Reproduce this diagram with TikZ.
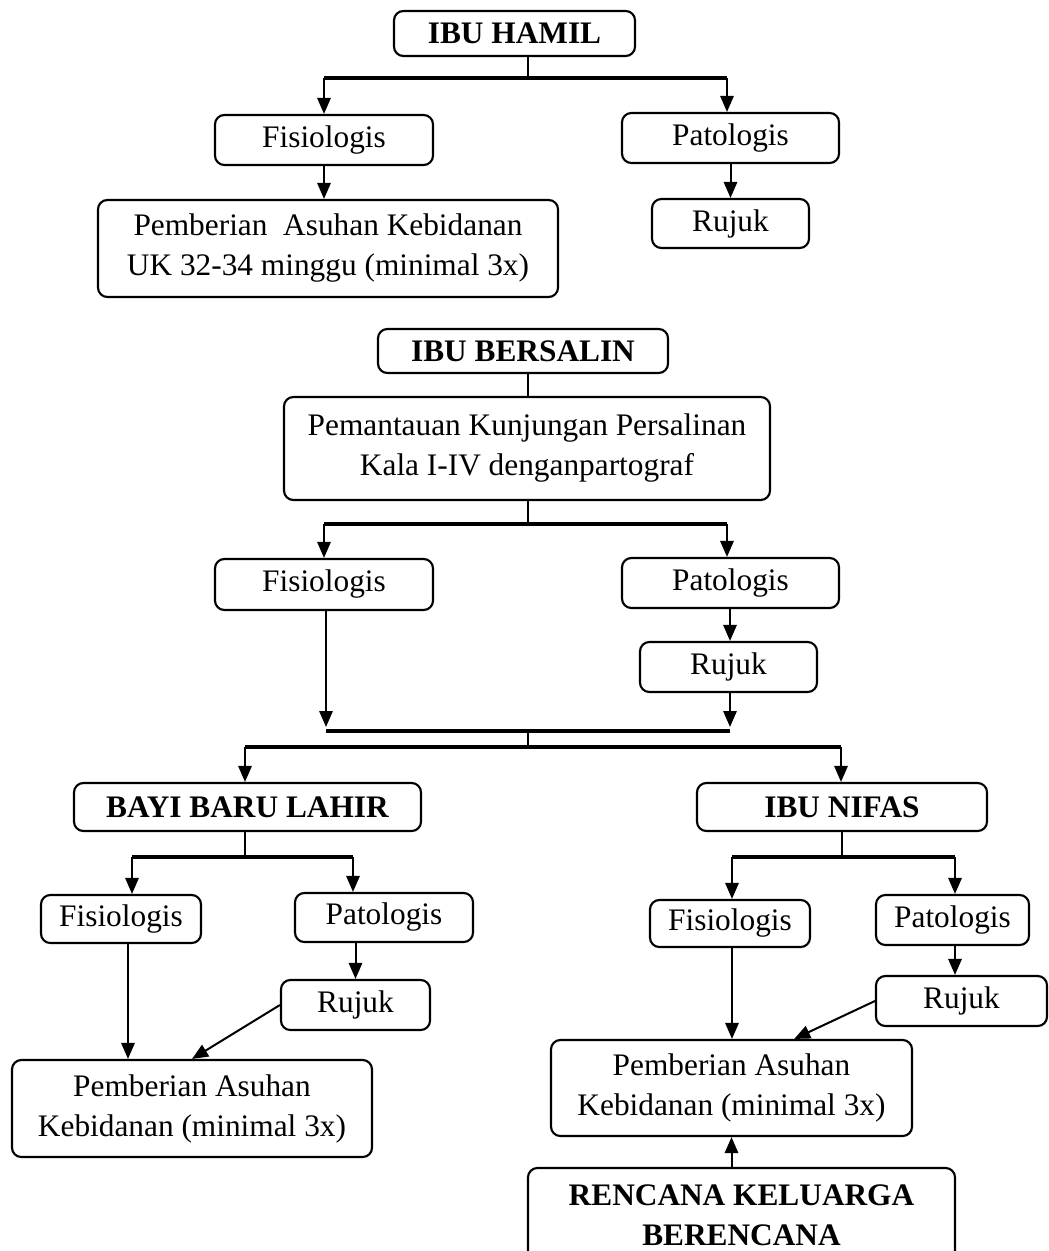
\documentclass[tikz,border=0pt]{standalone}
\usepackage{fontspec}
\setmainfont{Liberation Serif}
\usetikzlibrary{arrows.meta}

\tikzset{every picture/.style={line width=0.75pt}}
\tikzset{
  box/.style={draw, rounded corners=7pt, line width=1.6pt, inner sep=0pt, align=center,
    font=\fontsize{23.5}{30}\selectfont},
  arr/.style={line width=1.5pt, -{Triangle[length=12pt,width=10pt]}},
  conn/.style={line width=1.5pt},
  bar/.style={line width=3pt}
}

\begin{document}
\begin{tikzpicture}[x=0.75pt,y=0.75pt,yscale=-1,xscale=1]
\useasboundingbox (0,0) rectangle (1048,1251);
\clip (0,0) rectangle (1048,1251);

% Ibu hamil
\node (hamil) at (514.5,33.5) [box, minimum width=180.75pt, minimum height=33.75pt] {\bfseries IBU HAMIL};
\node (fisA) at (324,140) [box, minimum width=163.5pt, minimum height=37.5pt] {Fisiologis};
\node (patA) at (730.5,138) [box, minimum width=162.75pt, minimum height=37.5pt] {Patologis};
\node (asuhanA) at (328,248.5) [box, minimum width=345pt, minimum height=72.75pt] {Pemberian~ Asuhan Kebidanan\\UK 32-34 minggu (minimal 3x)};
\node (rujukA) at (730.5,223.5) [box, minimum width=117.75pt, minimum height=36.75pt] {Rujuk};

\coordinate (barA) at (528,78);
\coordinate (barAl) at (324,78);
\coordinate (barAr) at (727,78);
\draw [conn] (hamil.south -| barA) -- (barA) ;
\draw [bar] (barAl) -- (barAr) ;
\draw [arr] (barAl) -- (barAl |- fisA.north) ;
\draw [arr] (barAr) -- (barAr |- patA.north) ;
\draw [arr] (fisA.south) -- (fisA.south |- asuhanA.north) ;
\draw [arr] (patA.south) -- (rujukA.north) ;

% Ibu bersalin
\node (bersalin) at (523,351) [box, minimum width=217.5pt, minimum height=33pt] {\bfseries IBU BERSALIN};
\node (pantau) at (527,448.5) [box, minimum width=364.5pt, minimum height=77.25pt] {Pemantauan Kunjungan Persalinan\\Kala I-IV denganpartograf};
\node (fisB) at (324,584.5) [box, minimum width=163.5pt, minimum height=38.25pt] {Fisiologis};
\node (patB) at (730.5,583) [box, minimum width=162.75pt, minimum height=37.5pt] {Patologis};
\node (rujukB) at (728.5,667) [box, minimum width=132.75pt, minimum height=37.5pt] {Rujuk};

\coordinate (barB) at (528,524);
\coordinate (barBl) at (324,524);
\coordinate (barBr) at (727,524);
\coordinate (barCl) at (326,731);
\coordinate (barCr) at (730,731);
\coordinate (barC) at (528,731);
\coordinate (barD) at (528,747);
\coordinate (barDl) at (245,747);
\coordinate (barDr) at (841,747);
\draw [conn] (bersalin.south -| barB) -- (pantau.north -| barB) ;
\draw [conn] (pantau.south -| barB) -- (barB) ;
\draw [bar] (barBl) -- (barBr) ;
\draw [arr] (barBl) -- (barBl |- fisB.north) ;
\draw [arr] (barBr) -- (barBr |- patB.north) ;
\draw [arr] (patB.south -| barCr) -- (barCr |- rujukB.north) ;
\draw [arr] (fisB.south -| barCl) -- ([yshift=-3pt]barCl) ;
\draw [arr] (rujukB.south -| barCr) -- ([yshift=-3pt]barCr) ;
\draw [bar] (barCl) -- (barCr) ;
\draw [conn] (barC) -- (barD) ;
\draw [bar] (barDl) -- (barDr) ;

% Bayi baru lahir dan ibu nifas
\node (bayi) at (247.5,807) [box, minimum width=260.25pt, minimum height=36pt] {\bfseries BAYI BARU LAHIR};
\node (nifas) at (842,807) [box, minimum width=217.5pt, minimum height=36pt] {\bfseries IBU NIFAS};
\draw [arr] (barDl) -- (barDl |- bayi.north) ;
\draw [arr] (barDr) -- (barDr |- nifas.north) ;

\node (fisC) at (121,919) [box, minimum width=120pt, minimum height=36pt] {Fisiologis};
\node (patC) at (384,917.5) [box, minimum width=133.5pt, minimum height=36.75pt] {Patologis};
\node (rujukC) at (355.5,1005) [box, minimum width=111.75pt, minimum height=37.5pt] {Rujuk};
\node (asuhanC) at (192,1108.5) [box, minimum width=270pt, minimum height=72.75pt] {Pemberian Asuhan\\Kebidanan (minimal 3x)};

\coordinate (barE) at (245,857);
\coordinate (barEl) at (132,857);
\coordinate (barEr) at (353,857);
\draw [conn] (bayi.south -| barE) -- (barE) ;
\draw [bar] (barEl) -- (barEr) ;
\draw [arr] (barEl) -- (barEl |- fisC.north) ;
\draw [arr] (barEr) -- (barEr |- patC.north) ;
\draw [arr] ([xshift=5.25pt]fisC.south) -- ([xshift=5.25pt]fisC.south |- asuhanC.north) ;
\draw [arr] (patC.south -| rujukC.north) -- (rujukC.north) ;
\draw [arr] (rujukC.west) -- (asuhanC.north) ;

\node (fisD) at (730,923.5) [box, minimum width=120pt, minimum height=35.25pt] {Fisiologis};
\node (patD) at (952.5,920) [box, minimum width=114.75pt, minimum height=37.5pt] {Patologis};
\node (rujukD) at (961.5,1001) [box, minimum width=128.25pt, minimum height=37.5pt] {Rujuk};
\node (asuhanD) at (731.5,1088) [box, minimum width=270.75pt, minimum height=72pt] {Pemberian Asuhan\\Kebidanan (minimal 3x)};
\node (kb) at (741.5,1215) [box, minimum width=320.25pt, minimum height=70.5pt] {\bfseries RENCANA KELUARGA\\\bfseries BERENCANA};

\coordinate (barF) at (842,857);
\coordinate (barFl) at (732,857);
\coordinate (barFr) at (955,857);
\draw [conn] (nifas.south -| barF) -- (barF) ;
\draw [bar] (barFl) -- (barFr) ;
\draw [arr] (barFl) -- (barFl |- fisD.north) ;
\draw [arr] (barFr) -- (barFr |- patD.north) ;
\draw [arr] (fisD.south -| barFl) -- (barFl |- asuhanD.north) ;
\draw [arr] (patD.south -| barFr) -- (barFr |- rujukD.north) ;
\draw [arr] (rujukD.west) -- ([xshift=47pt]asuhanD.north) ;
\draw [arr] (kb.north -| asuhanD.south) -- (asuhanD.south) ;

\end{tikzpicture}
\end{document}
